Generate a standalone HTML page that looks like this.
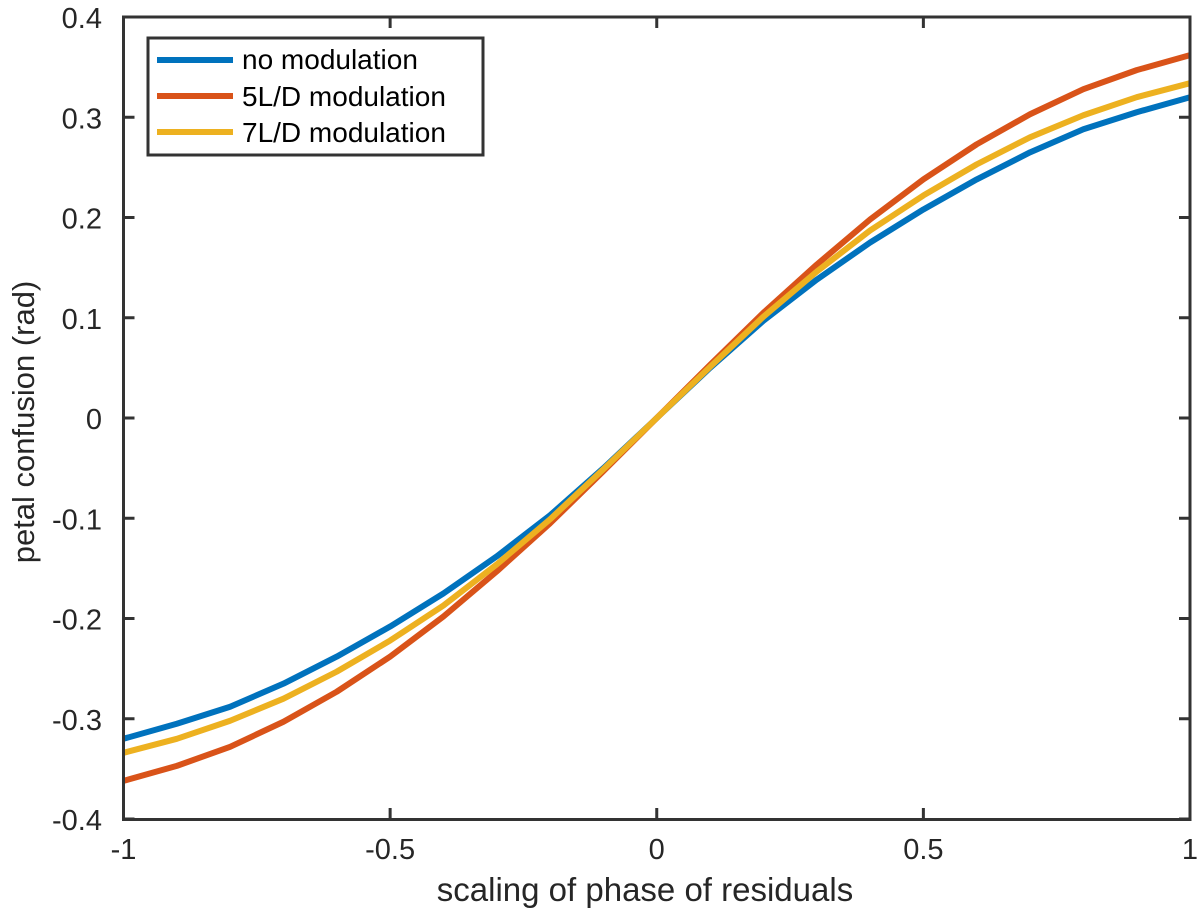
<!DOCTYPE html>
<html><head><meta charset="utf-8"><style>
html,body{margin:0;padding:0;background:#fff;}
svg{display:block;font-family:"Liberation Sans",Arial,sans-serif;}
</style></head><body>
<svg id="chart" width="1200" height="917" viewBox="0 0 1200 917" xmlns="http://www.w3.org/2000/svg">
<g id="lines"></g>
<rect x="123.5" y="17" width="1066.5" height="802.5" fill="none" stroke="#333" stroke-width="3"/>
<g id="ticks"></g>
<text x="645" y="901" font-size="33" fill="#262626" text-anchor="middle">scaling of phase of residuals</text>
<text transform="translate(34,422) rotate(-90)" font-size="31" fill="#262626" text-anchor="middle">petal confusion (rad)</text>
<g>
<rect x="148" y="38" width="335" height="117" fill="#fff" stroke="#333" stroke-width="3"/>
<line x1="157" y1="60" x2="233" y2="60" stroke="#0072BD" stroke-width="6"/>
<text x="242" y="69" font-size="28" fill="#000">no modulation</text>
<line x1="157" y1="96" x2="233" y2="96" stroke="#D95319" stroke-width="6"/>
<text x="242" y="106" font-size="28" fill="#000">5L/D modulation</text>
<line x1="157" y1="132" x2="233" y2="132" stroke="#EDB120" stroke-width="6"/>
<text x="242" y="142" font-size="28" fill="#000">7L/D modulation</text>
</g>
</svg>
<script>
const xValues = [-1,-0.9,-0.8,-0.7,-0.6,-0.5,-0.4,-0.3,-0.2,-0.1,0,0.1,0.2,0.3,0.4,0.5,0.6,0.7,0.8,0.9,1];
const noModulation = [-0.320,-0.305,-0.288,-0.265,-0.238,-0.208,-0.175,-0.138,-0.097,-0.050,0,0.050,0.097,0.138,0.175,0.208,0.238,0.265,0.288,0.305,0.320];
const mod5LD = [-0.362,-0.347,-0.328,-0.303,-0.273,-0.238,-0.198,-0.153,-0.105,-0.053,0,0.053,0.105,0.153,0.198,0.238,0.273,0.303,0.328,0.347,0.362];
const mod7LD = [-0.334,-0.320,-0.302,-0.280,-0.253,-0.222,-0.187,-0.146,-0.101,-0.051,0,0.051,0.101,0.146,0.187,0.222,0.253,0.280,0.302,0.320,0.334];
const xTicks = [-1,-0.5,0,0.5,1];
const xTickLabels = ["-1","-0.5","0","0.5","1"];
const yTicks = [-0.4,-0.3,-0.2,-0.1,0,0.1,0.2,0.3,0.4];
const yTickLabels = ["-0.4","-0.3","-0.2","-0.1","0","0.1","0.2","0.3","0.4"];

const NS = "http://www.w3.org/2000/svg";
const X0 = 123.5, X1 = 1190, Y0 = 819, Y1 = 17;
function xs(v){ return X0 + (v + 1) / 2 * (X1 - X0); }
function ys(v){ return Y0 - (v + 0.4) / 0.8 * (Y0 - Y1); }

const ticks = document.getElementById('ticks');
xTicks.forEach((t, i) => {
  const x = xs(t);
  const l = document.createElementNS(NS, 'path');
  l.setAttribute('d', `M${x},${Y0} V${Y0-11} M${x},${Y1} V${Y1+11}`);
  l.setAttribute('stroke', '#333'); l.setAttribute('stroke-width', '3');
  
  
  ticks.appendChild(l);
  const tx = document.createElementNS(NS, 'text');
  tx.setAttribute('x', x); tx.setAttribute('y', 859);
  tx.setAttribute('font-size', '29'); tx.setAttribute('fill', '#262626');
  tx.setAttribute('text-anchor', 'middle');
  tx.textContent = xTickLabels[i];
  
  
  ticks.appendChild(tx);
});
yTicks.forEach((t, i) => {
  const y = ys(t);
  const l = document.createElementNS(NS, 'path');
  l.setAttribute('d', `M${X0},${y} H${X0+11} M${X1},${y} H${X1-11}`);
  l.setAttribute('stroke', '#333'); l.setAttribute('stroke-width', '3');
  
  
  ticks.appendChild(l);
  const tx = document.createElementNS(NS, 'text');
  tx.setAttribute('x', 102); tx.setAttribute('y', y + 11);
  tx.setAttribute('font-size', '29'); tx.setAttribute('fill', '#262626');
  tx.setAttribute('text-anchor', 'end');
  tx.textContent = yTickLabels[i];
  
  
  ticks.appendChild(tx);
});

const lines = document.getElementById('lines');
function drawSeries(vals, color, name){
  const p = document.createElementNS(NS, 'polyline');
  p.setAttribute('points', vals.map((v, i) => xs(xValues[i]) + ',' + ys(v)).join(' '));
  p.setAttribute('fill', 'none'); p.setAttribute('stroke', color);
  p.setAttribute('stroke-width', '6'); p.setAttribute('stroke-linejoin', 'round');
  
  
  lines.appendChild(p);
}
drawSeries(noModulation, '#0072BD', 'series-no-modulation');
drawSeries(mod5LD, '#D95319', 'series-5ld-modulation');
drawSeries(mod7LD, '#EDB120', 'series-7ld-modulation');
</script>
</body></html>
